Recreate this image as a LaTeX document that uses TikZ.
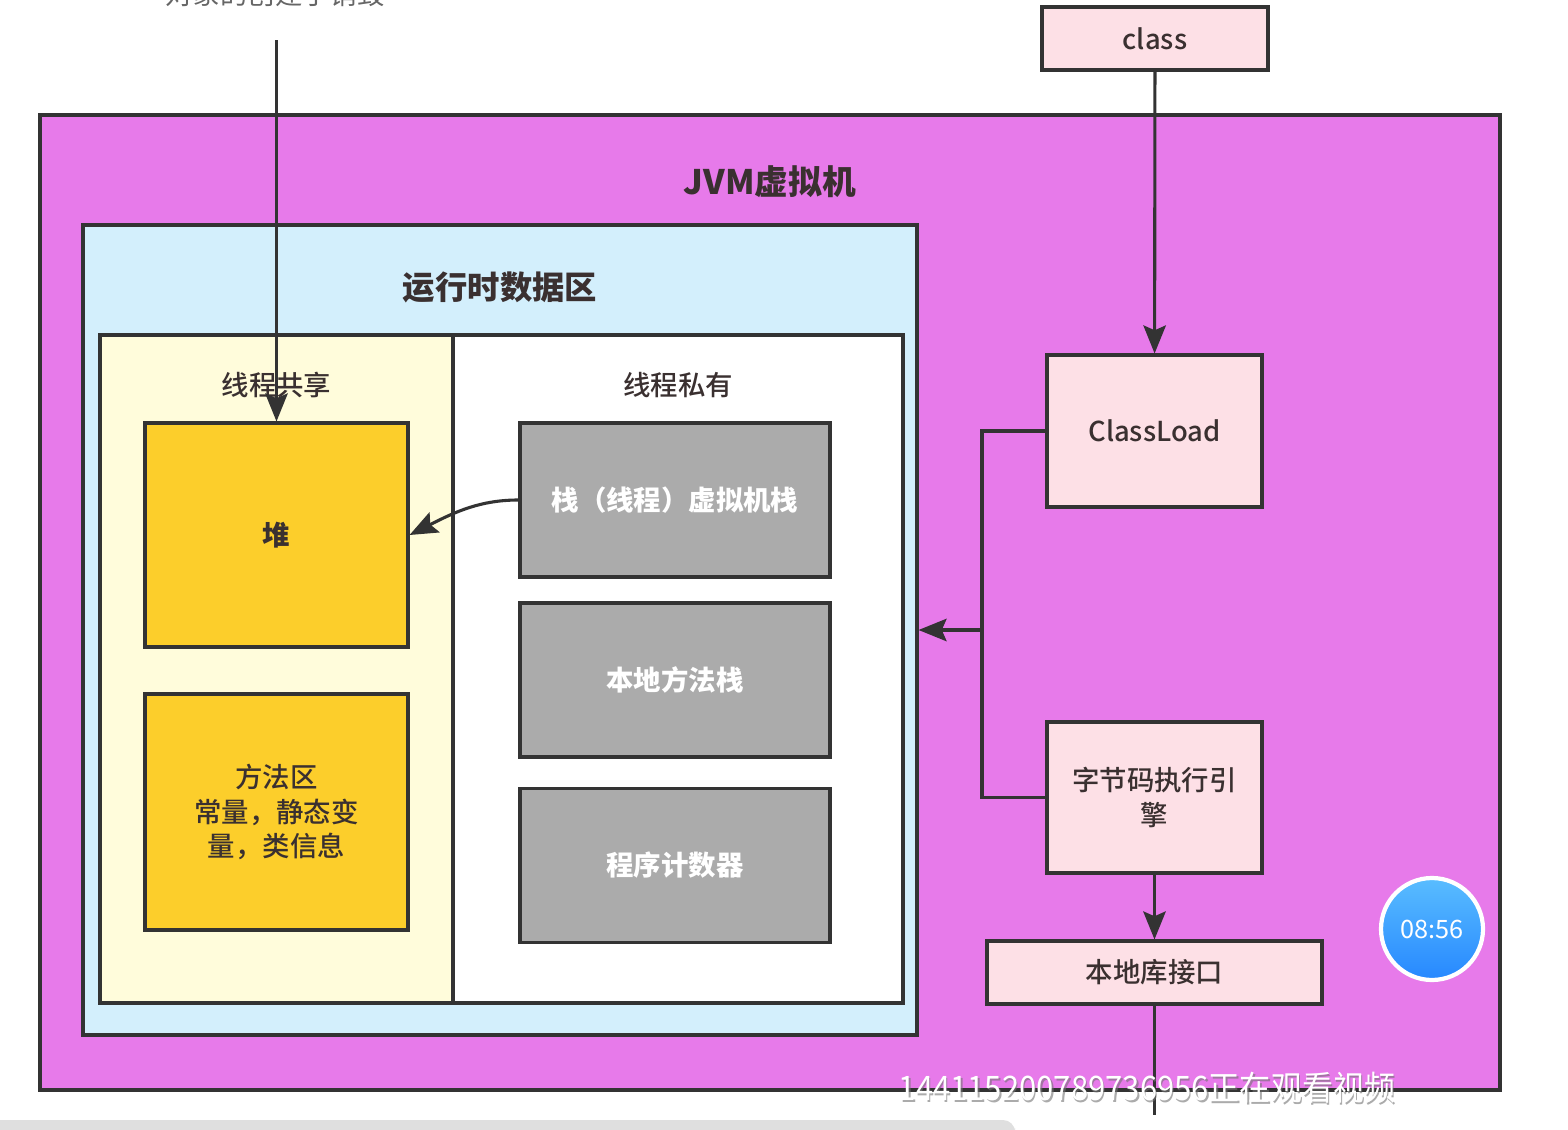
\documentclass[tikz,border=0pt]{standalone}
\usepackage{fontspec}
\setmainfont{Noto Sans CJK SC}
\newfontfamily\medfont{Noto Sans CJK SC Medium}
\usepackage{tikz}
\usetikzlibrary{arrows.meta, positioning, shadings}
\definecolor{jvm}{HTML}{E77AEA}
\definecolor{rtd}{HTML}{D3EFFC}
\definecolor{shared}{HTML}{FFFCDB}
\definecolor{heapc}{HTML}{FCCE2B}
\definecolor{grayc}{HTML}{ABABAB}
\definecolor{pinkc}{HTML}{FDE0E6}
\definecolor{linec}{HTML}{333333}
\definecolor{txt}{HTML}{3A3030}
\tikzset{>={Stealth[length=7mm, width=5.6mm, inset=1.2mm]}, line width=2pt,
  box/.style={draw=linec, line width=2.2pt, rectangle, inner sep=0pt, align=center},
  pinkbox/.style={box, fill=pinkc, text=txt, font=\fontsize{19.5}{24.5}\medfont},
  graybox/.style={box, fill=grayc, text=white, font=\fontsize{19.5}{24}\selectfont\bfseries,
    minimum width=77.5mm, minimum height=38.5mm},
  yellowbox/.style={box, fill=heapc, text=txt, font=\fontsize{19.5}{24.5}\medfont,
    minimum width=65.75mm},
  title/.style={text=txt, font=\fontsize{24}{28}\selectfont\bfseries},
  subtitle/.style={text=txt, font=\fontsize{19.5}{24}\medfont},
  wire/.style={draw=linec, line width=2.2pt}}

\begin{document}
\begin{tikzpicture}[x=0.25mm, y=-0.25mm]
    \useasboundingbox[fill=white] (0,0) rectangle (1568,1130);

    \node[box, fill=jvm, minimum width=365mm, minimum height=243.75mm] (jvm) at (770,602.5) {};
    \node[title] (jvmlabel) at (770,182) {JVM虚拟机};
    \node[box, fill=rtd, minimum width=208.5mm, minimum height=202.5mm] (rtd) at (500,630) {};
    \node[title, font=\fontsize{23}{28}\selectfont\bfseries] (rtdlabel) at (500,287) {运行时数据区};
    \node[box, fill=shared, minimum width=88.25mm, minimum height=167mm] (shared) at (276.5,669) {};
    \node[box, fill=white, minimum width=112.5mm, minimum height=167mm] (private) at (678,669) {};
    \node[subtitle] (sharedlabel) at (276.5,385) {线程共享};
    \node[subtitle] (privatelabel) at (678,385) {线程私有};

    \node[yellowbox, minimum height=56mm, font=\fontsize{19.5}{24}\selectfont\bfseries] (heap) at (276.5,535) {堆};
    \node[yellowbox, minimum height=59mm] (method) at (276.5,812) {方法区\\常量，静态变\\量，类信息};

    \node[graybox] (stack) at (675,500) {栈（线程）虚拟机栈};
    \node[graybox] (native) at (675,680) {本地方法栈};
    \node[graybox] (pc) at (675,865.5) {程序计数器};

    \node[pinkbox, minimum width=56.5mm, minimum height=15.75mm] (class) at (1155,38.5) {class};
    \node[pinkbox, minimum width=53.75mm, minimum height=38mm] (loader) at (1154.5,431) {ClassLoad};
    \node[pinkbox, minimum width=53.75mm, minimum height=37.75mm] (engine) at (1154.5,797.5) {字节码执行引\\擎};
    \node[pinkbox, minimum width=83.75mm, minimum height=15.75mm] (nlib) at (1154.5,972.5) {本地库接口};

    \node[text=gray!80!black, font=\fontsize{19.5}{24}\selectfont] (toptext) at (275,-6) {对象的创建于销毁};
    \coordinate (topin) at (276.5,40);
    \coordinate (j) at (982,630);
    \coordinate (out) at (1154.5,1115);

    \draw[wire, ->] (topin) -- (heap.north);
    \draw[wire, ->] (class) -- (loader);
    \draw[wire] (loader.west) -| (j) |- (engine.west);
    \draw[wire, ->] (j) -- (rtd.east |- j);
    \draw[wire, ->] (engine) -- (nlib);
    \draw[wire] (nlib) -- (out);
    \draw[wire, ->] (stack.west) .. controls (480,500) and (455,512) .. (heap.east);

    \fill[gray!25, rounded corners=3mm] (-20,1120) rectangle (1015,1140);
    \node[circle, draw=white, line width=3pt, minimum size=25.5mm, top color=blue!40!cyan!65, bottom color=blue!55!cyan!85!white,
      text=white, font=\fontsize{18}{20}\selectfont] (timer) at (1432,929) {08:56};
    \node[text=black!55, opacity=0.6, xscale=0.92, font=\fontsize{24}{26}\selectfont] (markshadow) at (1148.5,1089.5) {144115200789736956正在观看视频};
    \node[text=white, xscale=0.92, font=\fontsize{24}{26}\selectfont] (mark) at (1147,1088) {144115200789736956正在观看视频};
\end{tikzpicture}
\end{document}
